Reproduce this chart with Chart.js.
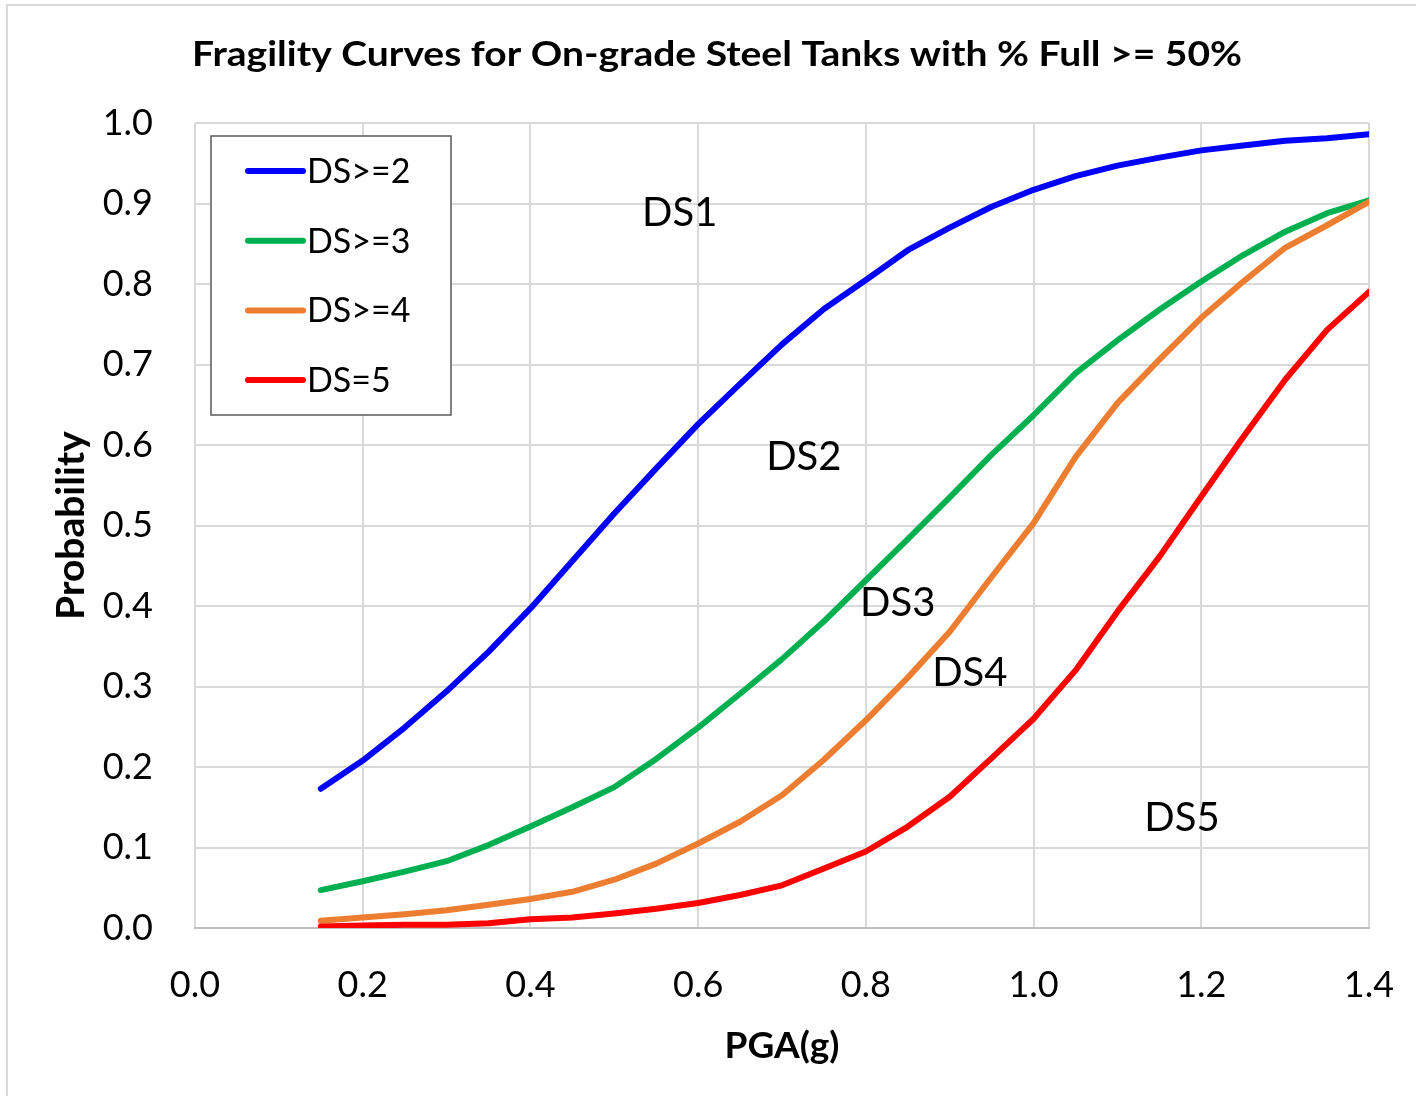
<!DOCTYPE html>
<html>
<head>
<meta charset="utf-8">
<title>Fragility Curves for On-grade Steel Tanks</title>
<script src="https://cdn.jsdelivr.net/npm/chart.js@4.4.1/dist/chart.umd.min.js"></script>
<style>
  html, body { margin: 0; padding: 0; background: #fff; overflow: hidden; }
  #wrap { position: relative; width: 1416px; height: 1096px; }
</style>
</head>
<body>
<div id="wrap"><canvas id="chart" width="1416" height="1096"></canvas></div>
<script>
// Peak ground acceleration (g) at which each probability was evaluated
const pga = [0.15, 0.20, 0.25, 0.30, 0.35, 0.40, 0.45, 0.50, 0.55, 0.60, 0.65, 0.70, 0.75,
             0.80, 0.85, 0.90, 0.95, 1.00, 1.05, 1.10, 1.15, 1.20, 1.25, 1.30, 1.35, 1.40];

// Probability of reaching or exceeding each damage state
const probDS2 = [0.173, 0.208, 0.249, 0.294, 0.343, 0.397, 0.456, 0.515, 0.571, 0.626, 0.676, 0.725, 0.769,
                 0.805, 0.842, 0.870, 0.896, 0.917, 0.934, 0.947, 0.957, 0.966, 0.972, 0.978, 0.981, 0.986];
const probDS3 = [0.047, 0.058, 0.070, 0.083, 0.103, 0.126, 0.150, 0.175, 0.210, 0.249, 0.291, 0.334, 0.381,
                 0.432, 0.483, 0.535, 0.588, 0.637, 0.689, 0.730, 0.768, 0.803, 0.836, 0.865, 0.888, 0.904];
const probDS4 = [0.009, 0.013, 0.017, 0.022, 0.029, 0.036, 0.045, 0.060, 0.080, 0.105, 0.132, 0.165, 0.209,
                 0.258, 0.311, 0.368, 0.436, 0.503, 0.585, 0.652, 0.706, 0.758, 0.803, 0.845, 0.873, 0.902];
const probDS5 = [0.002, 0.003, 0.004, 0.004, 0.006, 0.011, 0.013, 0.018, 0.024, 0.031, 0.041, 0.053, 0.074,
                 0.095, 0.126, 0.163, 0.211, 0.260, 0.320, 0.393, 0.461, 0.536, 0.610, 0.681, 0.743, 0.790];

const seriesNames = ['DS>=2', 'DS>=3', 'DS>=4', 'DS=5'];

// Axis ticks
const xTicks = [0.0, 0.2, 0.4, 0.6, 0.8, 1.0, 1.2, 1.4];
const yTicks = [0.0, 0.1, 0.2, 0.3, 0.4, 0.5, 0.6, 0.7, 0.8, 0.9, 1.0];

// Damage-state region labels, in data units (PGA, probability)
const regionNames = ['DS1', 'DS2', 'DS3', 'DS4', 'DS5'];
const regionPGA   = [0.578, 0.726, 0.838, 0.924, 1.177];
const regionProb  = [0.888, 0.585, 0.404, 0.317, 0.137];

const chartTitle = 'Fragility Curves for On-grade Steel Tanks with % Full >= 50%';

const FONT = 'Lato, "Open Sans", "Liberation Sans", sans-serif';
const colors = ['#0000FF', '#00B050', '#ED7D31', '#FF0000'];
const allSeries = [probDS2, probDS3, probDS4, probDS5];

const datasets = allSeries.map((vals, i) => ({
  label: seriesNames[i],
  data: pga.map((x, k) => ({ x: x, y: vals[k] })),
  borderColor: colors[i],
  backgroundColor: colors[i],
  borderWidth: 6,
  borderCapStyle: 'round',
  borderJoinStyle: 'round',
  pointRadius: 0,
  tension: 0,
  fill: false,
  order: allSeries.length - i   // later series drawn on top
}));

// Background, outer frame, title, legend box and region labels
const decorations = {
  id: 'decorations',
  beforeDraw(chart) {
    const ctx = chart.ctx;
    ctx.save();
    ctx.fillStyle = '#ffffff';
    ctx.fillRect(0, 0, chart.width, chart.height);
    ctx.strokeStyle = '#d9d9d9';
    ctx.lineWidth = 2;
    ctx.beginPath();
    ctx.moveTo(7, chart.height);
    ctx.lineTo(7, 5);
    ctx.lineTo(chart.width, 5);
    ctx.stroke();
    ctx.restore();
  },
  afterDatasetsDraw(chart) {
    const ctx = chart.ctx;
    const area = chart.chartArea;
    const xs = chart.scales.x, ys = chart.scales.y;
    ctx.save();

    // chart title, a narrow bold face spanning 1050px
    ctx.fillStyle = '#000';
    ctx.font = 'bold 35px ' + FONT;
    ctx.textAlign = 'center';
    ctx.textBaseline = 'middle';
    const tw = ctx.measureText(chartTitle).width;
    ctx.save();
    ctx.translate(717, 55);
    ctx.scale(1050 / tw, 1);
    ctx.fillText(chartTitle, 0, 0);
    ctx.restore();

    // region labels
    ctx.font = '40px ' + FONT;
    regionNames.forEach((t, i) => {
      ctx.fillText(t, xs.getPixelForValue(regionPGA[i]), ys.getPixelForValue(regionProb[i]));
    });

    // legend box
    const bx = area.left + 16, by = area.top + 13, bw = 240, bh = 279;
    ctx.fillStyle = '#fff';
    ctx.fillRect(bx, by, bw, bh);
    ctx.strokeStyle = '#595959';
    ctx.lineWidth = 1.5;
    ctx.strokeRect(bx, by, bw, bh);
    ctx.font = '34px ' + FONT;
    ctx.textAlign = 'left';
    chart.data.datasets.forEach((d, i) => {
      const cy = by + 35 + i * 69.7;
      ctx.strokeStyle = d.borderColor;
      ctx.lineWidth = 6;
      ctx.lineCap = 'round';
      ctx.beginPath();
      ctx.moveTo(bx + 37, cy);
      ctx.lineTo(bx + 92, cy);
      ctx.stroke();
      ctx.fillStyle = '#000';
      ctx.fillText(d.label, bx + 96, cy + 1);
    });
    ctx.restore();
  }
};

new Chart(document.getElementById('chart'), {
  type: 'line',
  data: { datasets: datasets },
  options: {
    responsive: false,
    animation: false,
    devicePixelRatio: 1,
    layout: { padding: { top: 123, right: 47, bottom: 0, left: 0 } },
    plugins: {
      legend: { display: false },
      title: { display: false },
      tooltip: { enabled: false }
    },
    scales: {
      x: {
        type: 'linear',
        min: 0,
        max: 1.4,
        afterFit: s => { s.height = 168; s.paddingLeft = 0; s.paddingRight = 0; },
        afterBuildTicks: s => { s.ticks = xTicks.map(v => ({ value: v })); },
        ticks: {
          color: '#000',
          font: { family: FONT, size: 36 },
          padding: 36,
          callback: v => Number(v).toFixed(1)
        },
        grid: { color: '#d9d9d9', lineWidth: 2, drawTicks: false },
        border: { color: '#bfbfbf', width: 2 },
        title: {
          display: true,
          text: 'PGA(g)',
          color: '#000',
          font: { family: FONT, size: 37, weight: 'bold' },
          padding: { top: 28, bottom: 28 }
        }
      },
      y: {
        type: 'linear',
        min: 0,
        max: 1,
        afterFit: s => { s.width = 195; s.paddingTop = 0; s.paddingBottom = 0; },
        afterBuildTicks: s => { s.ticks = yTicks.map(v => ({ value: v })); },
        ticks: {
          color: '#000',
          font: { family: FONT, size: 36 },
          padding: 42,
          callback: v => Number(v).toFixed(1)
        },
        grid: { color: '#d9d9d9', lineWidth: 2, drawTicks: false },
        border: { display: false },
        title: {
          display: true,
          text: 'Probability',
          color: '#000',
          font: { family: FONT, size: 39, weight: 'bold' },
          padding: { top: 48, bottom: 48 }
        }
      }
    }
  },
  plugins: [decorations]
});
</script>
</body>
</html>
